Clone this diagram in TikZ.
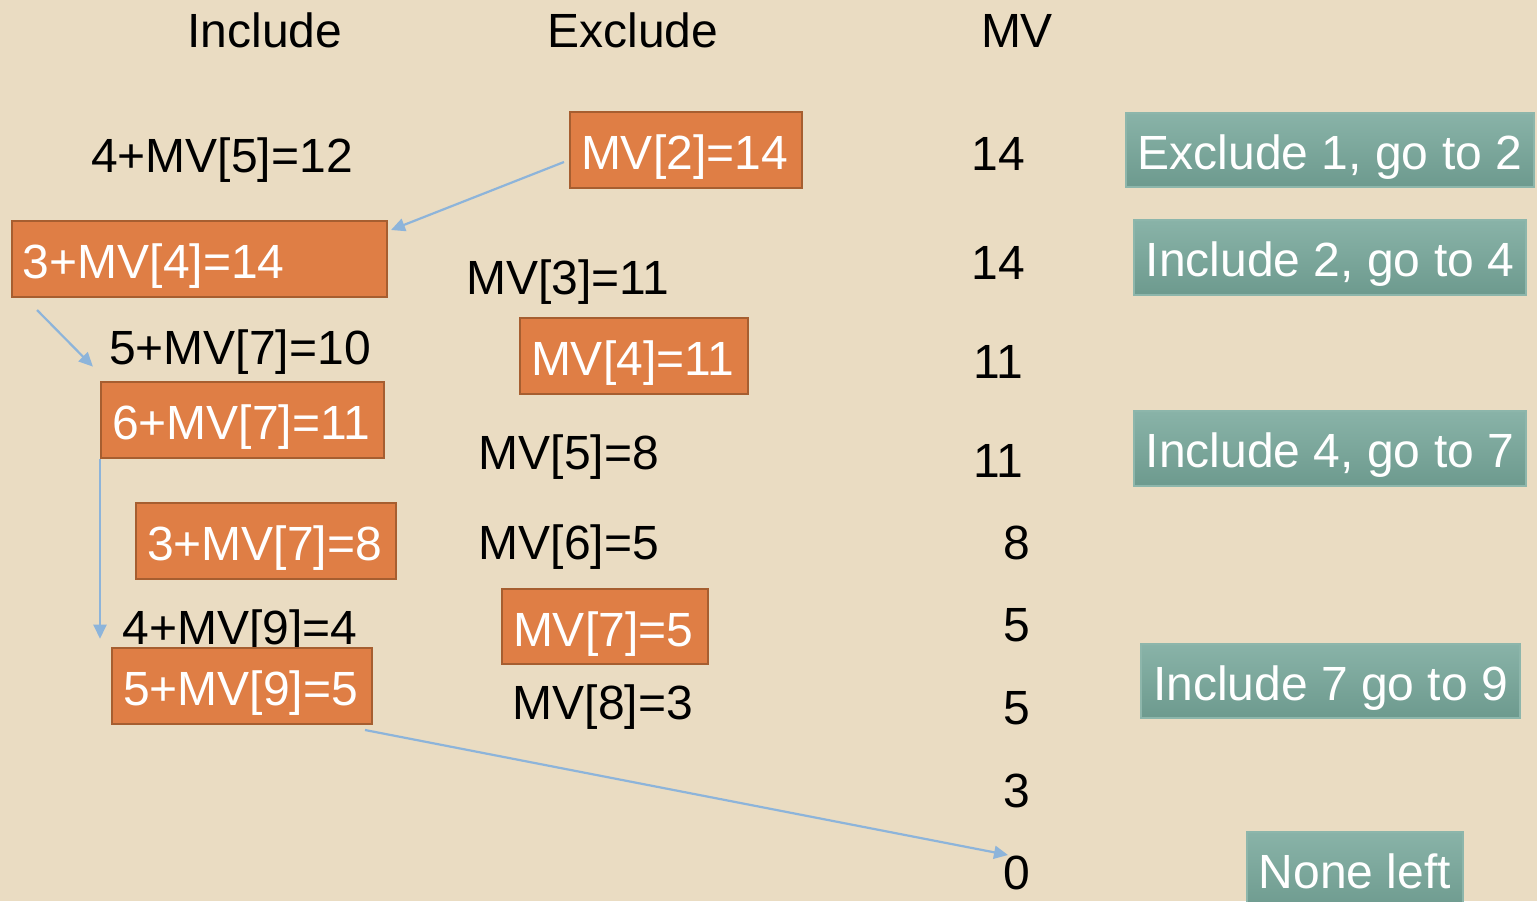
\documentclass[tikz,border=0pt]{standalone}
\usepackage{fontspec}
\setmainfont{Liberation Sans}
\usetikzlibrary{arrows.meta,calc}
\definecolor{bg}{HTML}{EADCC2}
\definecolor{org}{HTML}{DF7E45}
\definecolor{orgline}{HTML}{A65E30}
\definecolor{tealtop}{HTML}{89B3A8}
\definecolor{tealbot}{HTML}{6D9A8E}
\definecolor{tealline}{HTML}{8DB6AB}
\definecolor{arr}{HTML}{8DB4DA}
\tikzset{
  txt/.style={font=\fontsize{24}{28}\selectfont, inner sep=0pt, anchor=base, text=black},
  obox/.style={font=\fontsize{24}{28}\selectfont, fill=org, draw=orgline, line width=1pt, text=white,
     align=left, inner xsep=5.5pt, inner ysep=0pt, minimum height=38pt, text height=19.5pt, text depth=0pt},
  tbox/.style={font=\fontsize{24}{28}\selectfont, top color=tealtop, bottom color=tealbot, draw=tealline,
     line width=0.6pt, text=white, align=center, inner sep=0pt, minimum height=37.5pt, text height=19pt, text depth=0pt},
  conn/.style={draw=arr, line width=1.1pt, -{Triangle[length=7pt,width=6.5pt]}}
}
\begin{document}
\begin{tikzpicture}[x=0.5pt,y=-0.5pt]
\clip (0,0) rectangle (1537,901);
\fill[bg] (0,0) rectangle (1537,901);
% headers
\node[txt] (hinc) at (265,47) {Include};
\node[txt] (hexc) at (633,47) {Exclude};
\node[txt] (hmv) at (1017,47) {MV};
% include column
\node[txt] (i512) at (222,172) {4+MV[5]=12};
\node[obox, text width=176.5pt] (b34) at (199.5,259) {3+MV[4]=14};
\node[txt] (i710) at (240,364) {5+MV[7]=10};
\node[obox, text width=130.5pt] (b67) at (242.5,420) {6+MV[7]=11};
\node[obox, text width=119pt] (b37) at (266,541) {3+MV[7]=8};
\node[txt] (i94) at (240,644) {4+MV[9]=4};
\node[obox, text width=119pt] (b59) at (242,686) {5+MV[9]=5};
% exclude column
\node[obox, text width=105pt] (mv2) at (686,150) {MV[2]=14};
\node[txt] (mv3) at (568,294) {MV[3]=11};
\node[obox, text width=103pt] (mv4) at (634,356) {MV[4]=11};
\node[txt] (mv5) at (569,469) {MV[5]=8};
\node[txt] (mv6) at (569,559) {MV[6]=5};
\node[obox, text width=92pt, minimum height=37.5pt] (mv7) at (605,626.5) {MV[7]=5};
\node[txt] (mv8) at (603,719) {MV[8]=3};
% MV column
\node[txt] (v1) at (998,170) {14};
\node[txt] (v2) at (998,279) {14};
\node[txt] (v3) at (998,378) {11};
\node[txt] (v4) at (998,477) {11};
\node[txt] (v5) at (1017,559) {8};
\node[txt] (v6) at (1017,641) {5};
\node[txt] (v7) at (1017,724) {5};
\node[txt] (v8) at (1017,807) {3};
\node[txt] (v9) at (1017,889) {0};
% teal notes
\node[tbox, minimum width=204pt, minimum height=37pt] (t1) at (1330,150) {Exclude 1, go to 2};
\node[tbox, minimum width=196pt] (t2) at (1330,257.5) {Include 2, go to 4};
\node[tbox, minimum width=196pt] (t3) at (1330,448.5) {Include 4, go to 7};
\node[tbox, minimum width=189.5pt, minimum height=37pt] (t4) at (1330.5,681) {Include 7 go to 9};
\node[tbox, minimum width=108pt, minimum height=40pt, text height=16pt] (t5) at (1355,872) {None left};
% connectors
\draw[conn] ([shift={(-5,12)}]mv2.west) -- ([shift={(3,10)}]b34.north east);
\draw[conn] ([shift={(26,12)}]b34.south west) -- ([shift={(-16,15)}]i710.west);
\draw[conn] (b67.south west) -- (b67.south west |- i94.mid);
\draw[conn] ([shift={(-8,5)}]b59.south east) -- ([shift={(-9,-34)}]v9.base);
\end{tikzpicture}
\end{document}
